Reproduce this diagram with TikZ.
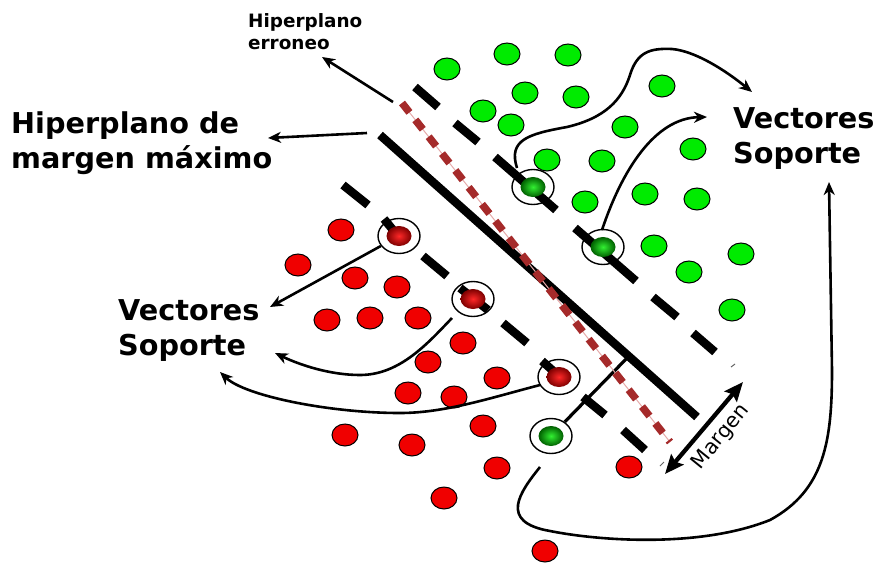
\documentclass[tikz,border=0pt]{standalone}
\usepackage{fontspec}
\setmainfont{DejaVu Sans}
\usetikzlibrary{arrows.meta,shapes.geometric}
\definecolor{gdot}{RGB}{0,235,0}
\definecolor{rdot}{RGB}{240,0,0}
\definecolor{badc}{RGB}{165,42,42}
\definecolor{badthin}{RGB}{230,170,170}
\begin{document}
\begin{tikzpicture}[x=1pt,y=-1pt,
  gd/.style={ellipse, draw=black, line width=1pt, fill=gdot, minimum width=26pt, minimum height=22pt, inner sep=0pt},
  rd/.style={ellipse, draw=black, line width=1pt, fill=rdot, minimum width=26pt, minimum height=22pt, inner sep=0pt},
  ring/.style={ellipse, draw=black, line width=1.4pt, fill=white, minimum width=42pt, minimum height=35pt, inner sep=0pt},
  gsv/.style={ellipse, minimum width=25pt, minimum height=20pt, inner sep=0pt, shading=radial, inner color={rgb,255:red,50;green,240;blue,50}, outer color={rgb,255:red,0;green,95;blue,0}},
  rsv/.style={ellipse, minimum width=25pt, minimum height=20pt, inner sep=0pt, shading=radial, inner color={rgb,255:red,255;green,40;blue,40}, outer color={rgb,255:red,125;green,0;blue,0}},
  mdash/.style={line width=8.5pt},
  arr/.style={line width=2.6pt, -{Stealth[length=13pt,width=11pt,inset=4pt]}},
  big/.style={anchor=base west, inner sep=0pt, font=\bfseries\fontsize{28.7}{34}\selectfont},
  small/.style={anchor=base west, inner sep=0pt, font=\bfseries\fontsize{18.4}{22}\selectfont}
]
\useasboundingbox[fill=white] (0,0) rectangle (876,563);

% green points
\foreach \p [count=\i] in {(447,69),(507,54),(568,55),(525,93),(576,97),(662,86),(483,111),(511,125),(625,127),(547,160),(602,161),(693,149),(585,202),(645,194),(697,199),(654,246),(689,272),(741,254),(732,310)}
  \node[gd] (g\i) at \p {};
% red points
\foreach \p [count=\i] in {(341,230),(298,265),(355,278),(397,287),(327,320),(370,318),(418,318),(463,343),(428,362),(408,393),(454,397),(497,378),(345,435),(412,445),(483,426),(497,468),(444,498),(545,551),(629,467)}
  \node[rd] (r\i) at \p {};

% support vector rings
\node[ring] (sv1) at (399,236) {};
\node[ring] (sv2) at (473,299) {};
\node[ring] (sv3) at (559,377) {};
\node[ring] (sv4) at (551,436) {};
\node[ring] (sv5) at (533,187) {};
\node[ring] (sv6) at (603,247) {};

% maximum margin hyperplane
\draw[line width=8.5pt] (380,135) -- (697,417);

% upper margin (dashes)
\draw[mdash] (415,87) -- (438,107);
\draw[mdash] (455,123) -- (478,142);
\draw[mdash] (495,157) -- (556,210);
\draw[mdash] (575,228) -- (636,281);
\draw[mdash] (653,297) -- (677,317);
\draw[mdash] (693,333) -- (715,352);
\draw[line width=1pt, black!60] (731,367) -- (735,364);
% lower margin (dashes)
\draw[mdash] (343,185) -- (368,205);
\draw[mdash] (384,219) -- (398,236);
\draw[mdash] (423,256) -- (447,276);
\draw[mdash] (460,288) -- (488,310);
\draw[mdash] (503,323) -- (527,343);
\draw[mdash] (542,361) -- (560,377);
\draw[mdash] (583,397) -- (605,415);
\draw[mdash] (623,430) -- (645,450);
\draw[line width=1pt, black!60] (660,466) -- (664,462);

% perpendicular from misclassified point to the hyperplane
\coordinate (foot) at (628,357);
\draw[line width=3.2pt] (sv4) -- (foot);

% support vector points
\node[rsv] (d1) at (sv1) {};
\node[rsv] (d2) at (sv2) {};
\node[rsv] (d3) at (sv3) {};
\node[gsv] (d4) at (sv4) {};
\node[gsv] (d5) at (sv5) {};
\node[gsv] (d6) at (sv6) {};

% wrong hyperplane
\coordinate (w1) at (402,103);
\coordinate (w2) at (670,442);
\draw[line width=1pt, badthin] (w1) -- (w2);
\draw[line width=7.5pt, badc, dash pattern=on 12pt off 9.5pt] (w1) -- (w2);

% labels
\node[big] (hm1) at (11,133) {Hiperplano de};
\node[big] (hm2) at (11,168) {margen máximo};
\node[small] (he1) at (248,27) {Hiperplano};
\node[small] (he2) at (248,49) {erroneo};
\node[big] (vr1) at (733,128) {Vectores};
\node[big] (vr2) at (733,163) {Soporte};
\node[big] (vl1) at (118,320) {Vectores};
\node[big] (vl2) at (118,355) {Soporte};
\node[rotate=51, inner sep=0pt, font=\fontsize{20.5}{24}\selectfont] (mg) at (721,437) {Margen};

% label arrows
\coordinate (hmS) at (367,133);
\coordinate (hmT) at (268,138);
\draw[arr] (hmS) -- (hmT);
\coordinate (heS) at (393,102);
\coordinate (heT) at (322,57);
\draw[arr] (heS) -- (heT);

% margin arrow
\coordinate (mA) at (665,474);
\coordinate (mB) at (743,382);
\draw[line width=4.3pt, {Stealth[length=19pt,width=16pt,inset=3pt]}-{Stealth[length=19pt,width=16pt,inset=3pt]}] (mA) -- (mB);

% support vector arrows (left)
\coordinate (tA) at (270,307);
\draw[arr] (sv1) -- (tA);
\coordinate (sB) at (452,318);
\coordinate (tB) at (275,353);
\draw[arr] (sB) .. controls (428,343) and (400,375) .. (360,375)
               .. controls (330,375) and (300,365) .. (tB);
\coordinate (sC) at (540,385);
\coordinate (tC) at (220,372);
\draw[arr] (sC) .. controls (490,398) and (445,413) .. (400,413)
               .. controls (330,413) and (245,396) .. (tC);

% support vector arrows (right)
\coordinate (sD) at (517,168);
\coordinate (tD) at (752,92);
\draw[arr] (sD) .. controls (508,140) and (528,134) .. (567,127)
               .. controls (605,118) and (622,100) .. (630,75)
               .. controls (637,52) and (650,48) .. (672,49)
               .. controls (695,51) and (725,70) .. (tD);
\coordinate (sE) at (602,230);
\coordinate (tE) at (707,117);
\draw[arr] (sE) .. controls (622,170) and (655,118) .. (tE);
\coordinate (sG) at (540,467);
\coordinate (tG) at (829,182);
\draw[arr] (sG) .. controls (520,492) and (498,522) .. (550,531)
               .. controls (600,541) and (700,548) .. (770,520)
               .. controls (825,490) and (832,440) .. (832,370)
               -- (tG);
\end{tikzpicture}
\end{document}
